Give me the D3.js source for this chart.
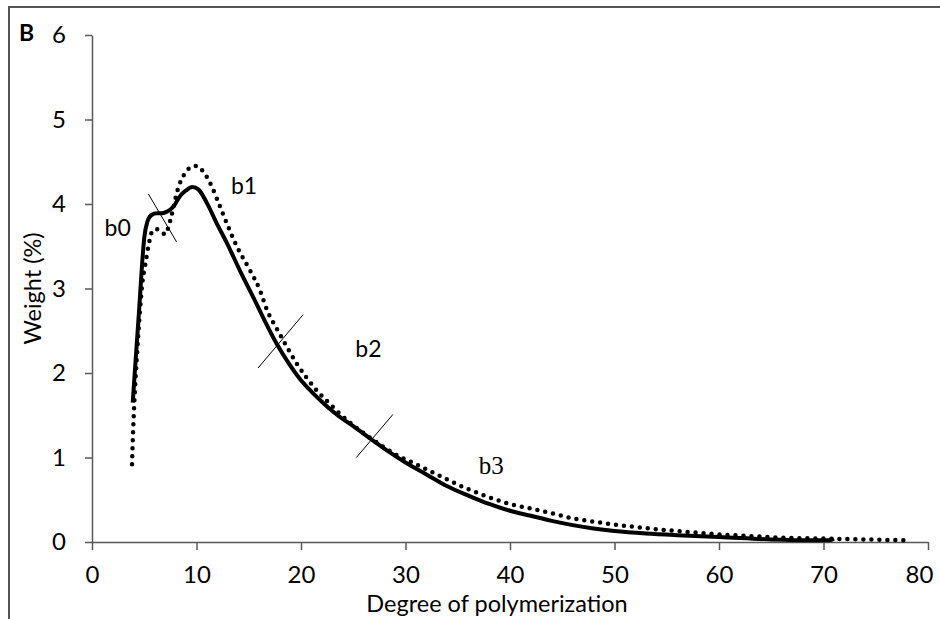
<!DOCTYPE html>
<html>
<head>
<meta charset="utf-8">
<script src="https://cdn.jsdelivr.net/npm/d3@7"></script>
<style>
  body { margin: 0; background: #fff; }
  svg text { font-family: Lato, "Open Sans", sans-serif; }
</style>
</head>
<body>
<div id="chart"></div>
<script>
// Solid curve (x = degree of polymerization, y = weight %)
const solidX = [3.9, 4.2, 4.5, 4.8, 5.0, 5.3, 5.7, 6.2, 6.7, 7.2, 7.8, 8.4, 9.0, 9.6, 10.2, 11.0, 11.9, 12.9, 14.2, 15.5, 16.6, 17.7, 18.8, 19.9, 21.0, 22.0, 22.8, 23.5, 25.0, 26.9, 28.5, 30.0, 32.0, 34.0, 36.0, 38.0, 40.0, 42.0, 44.0, 46.0, 48.0, 50.0, 53.0, 56.0, 60.0, 65.0, 69.0, 70.5, 71.0];
const solidY = [1.65, 2.2, 2.73, 3.3, 3.6, 3.79, 3.87, 3.89, 3.89, 3.91, 3.97, 4.09, 4.16, 4.2, 4.17, 4.01, 3.78, 3.54, 3.2, 2.88, 2.6, 2.34, 2.12, 1.93, 1.78, 1.66, 1.57, 1.5, 1.37, 1.2, 1.06, 0.94, 0.8, 0.66, 0.55, 0.45, 0.37, 0.31, 0.25, 0.2, 0.16, 0.13, 0.1, 0.08, 0.06, 0.03, 0.02, 0.02, 0.04];

// Dotted curve
const dotX = [3.83, 3.9, 4.05, 4.3, 4.6, 4.85, 5.07, 5.4, 5.7, 6.0, 6.3, 6.7, 7.0, 7.3, 7.6, 8.2, 8.6, 9.06, 9.5, 9.95, 10.6, 11.45, 12.25, 13.0, 13.85, 15.1, 16.0, 16.8, 17.7, 18.6, 19.5, 20.5, 21.6, 22.8, 23.7, 25.0, 27.0, 29.0, 31.0, 33.0, 35.9, 38.0, 40.0, 42.2, 44.0, 46.0, 48.6, 51.8, 55.0, 58.0, 60.0, 63.0, 66.0, 70.0, 74.0, 78.0];
const dotY = [0.92, 1.2, 1.65, 2.2, 2.75, 3.1, 3.26, 3.5, 3.66, 3.7, 3.7, 3.67, 3.64, 3.72, 3.86, 4.17, 4.3, 4.39, 4.44, 4.45, 4.39, 4.21, 3.97, 3.74, 3.5, 3.22, 3.0, 2.73, 2.52, 2.32, 2.13, 1.95, 1.78, 1.63, 1.52, 1.38, 1.2, 1.04, 0.92, 0.8, 0.63, 0.53, 0.45, 0.39, 0.34, 0.28, 0.23, 0.18, 0.14, 0.11, 0.09, 0.07, 0.05, 0.04, 0.03, 0.02];

// Section dividers (thin cross lines) and region labels, in data units
const dividers = [
    [[5.39, 4.12], [8.1, 3.55]],
    [[15.9, 2.06], [20.2, 2.69]],
    [[25.3, 1.0], [28.8, 1.51]]
];
const regionLabels = [
    { text: "b0", x: 1.2, y: 3.62, serif: false },
    { text: "b1", x: 13.3, y: 4.12, serif: false },
    { text: "b2", x: 25.2, y: 2.19, serif: false },
    { text: "b3", x: 37.0, y: 0.8, serif: true }
];

const xTicks = [0, 10, 20, 30, 40, 50, 60, 70, 80];
const yTicks = [0, 1, 2, 3, 4, 5, 6];

const W = 940, H = 619;
const svg = d3.select("#chart").append("svg")
    .attr("width", W)
    .attr("height", H);

// outer frame (runs off the right and bottom)
svg.append("rect")
    .attr("x", 9).attr("y", 7)
    .attr("width", 1000).attr("height", 700)
    .attr("fill", "none")
    .attr("stroke", "#555")
    .attr("stroke-width", 2);

const x = d3.scaleLinear().domain([0, 80]).range([92, 928]);
const y = d3.scaleLinear().domain([0, 6]).range([542, 35]);

const axisColor = "#595959";

// x axis
const gx = svg.append("g")
    .attr("transform", `translate(0,${y(0)})`)
    .call(d3.axisBottom(x).tickValues(xTicks).tickFormat(d3.format("d"))
        .tickSize(8).tickSizeOuter(0).tickPadding(16));
// y axis
const gy = svg.append("g")
    .attr("transform", `translate(${x(0)},0)`)
    .call(d3.axisLeft(y).tickValues(yTicks).tickFormat(d3.format("d"))
        .tickSize(7).tickSizeOuter(0).tickPadding(19));

[gx, gy].forEach(g => {
    g.selectAll("path, line").attr("stroke", axisColor).attr("stroke-width", 1.5);
    g.selectAll("text")
        .attr("fill", "#000")
        .style("font-family", "Lato, sans-serif")
        .style("font-size", "24px");
});

// last x label is pulled inside the window, like the original
gx.selectAll(".tick text").filter(d => d === 80).attr("dx", -9);

// curves
const line = d3.line()
    .x(d => x(d[0]))
    .y(d => y(d[1]))
    .curve(d3.curveMonotoneX);

svg.append("path")
    .datum(dotX.map((v, i) => [v, dotY[i]]))
    .attr("fill", "none")
    .attr("stroke", "#000")
    .attr("stroke-width", 4.5)
    .attr("stroke-linecap", "round")
    .attr("stroke-dasharray", "0 8")
    .attr("d", line);

svg.append("path")
    .datum(solidX.map((v, i) => [v, solidY[i]]))
    .attr("fill", "none")
    .attr("stroke", "#000")
    .attr("stroke-width", 4)
    .attr("stroke-linejoin", "round")
    .attr("d", line);

// dividers
svg.selectAll(".divider")
    .data(dividers)
    .enter()
    .append("line")
    .attr("class", "divider")
    .attr("x1", d => x(d[0][0]))
    .attr("y1", d => y(d[0][1]))
    .attr("x2", d => x(d[1][0]))
    .attr("y2", d => y(d[1][1]))
    .attr("stroke", "#000")
    .attr("stroke-width", 1);

// region labels
svg.selectAll(".region")
    .data(regionLabels)
    .enter()
    .append("text")
    .attr("class", "region")
    .attr("x", d => x(d.x))
    .attr("y", d => y(d.y))
    .style("font-family", d => d.serif ? "'Liberation Serif', serif" : "Lato, sans-serif")
    .style("font-size", d => d.serif ? "25px" : "23px")
    .text(d => d.text);

// panel letter
svg.append("text")
    .attr("x", 19)
    .attr("y", 41)
    .style("font-weight", "bold")
    .style("font-size", "23px")
    .text("B");

// axis titles
svg.append("text")
    .attr("x", 497)
    .attr("y", 612)
    .attr("text-anchor", "middle")
    .style("font-size", "23.5px")
    .text("Degree of polymerization");

svg.append("text")
    .attr("transform", "rotate(-90)")
    .attr("x", -y(3))
    .attr("y", 41)
    .attr("text-anchor", "middle")
    .style("font-size", "23.5px")
    .text("Weight (%)");
</script>
</body>
</html>
